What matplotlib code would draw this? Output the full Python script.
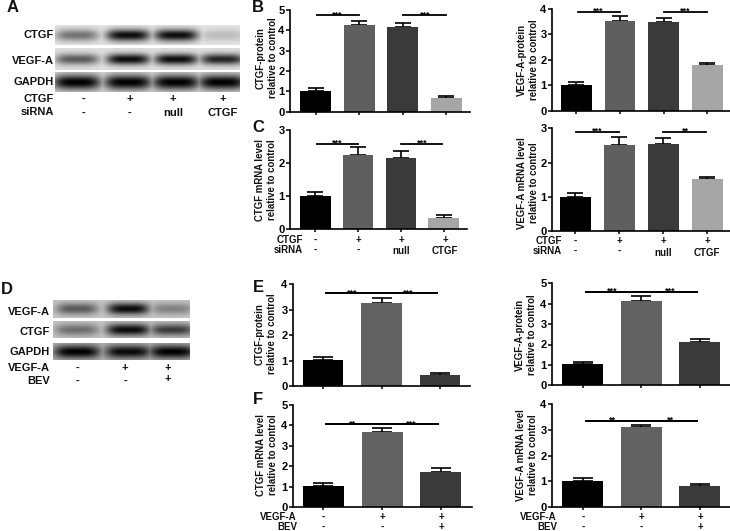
import numpy as np
import matplotlib
matplotlib.use("Agg")
import matplotlib.pyplot as plt

W, H = 730, 531

plt.rcParams["font.family"] = ["Liberation Sans", "DejaVu Sans"]
plt.rcParams["font.weight"] = "bold"

# bar values
ctgf_protein = [1.02, 4.25, 4.17, 0.67]
ctgf_protein_err = [0.13, 0.22, 0.20, 0.08]
vegf_protein = [1.02, 3.53, 3.47, 1.80]
vegf_protein_err = [0.12, 0.20, 0.18, 0.08]
ctgf_mrna = [1.00, 2.23, 2.15, 0.35]
ctgf_mrna_err = [0.13, 0.25, 0.21, 0.08]
vegf_mrna = [1.00, 2.52, 2.55, 1.52]
vegf_mrna_err = [0.11, 0.22, 0.18, 0.07]

bev_ctgf_protein = [1.03, 3.25, 0.42]
bev_ctgf_protein_err = [0.12, 0.22, 0.10]
bev_vegf_protein = [1.03, 4.15, 2.13]
bev_vegf_protein_err = [0.10, 0.25, 0.13]
bev_ctgf_mrna = [1.02, 3.70, 1.73]
bev_ctgf_mrna_err = [0.15, 0.18, 0.17]
bev_vegf_mrna = [1.02, 3.10, 0.82]
bev_vegf_mrna_err = [0.10, 0.10, 0.08]

colors4 = ["#000000", "#5f5f5f", "#3a3a3a", "#a6a6a6"]
colors3 = ["#000000", "#626262", "#3a3a3a"]

# band darkness per lane, 0 = nothing, 1 = black
blot_a_ctgf = [0.50, 0.95, 0.95, 0.18]
blot_a_vegf = [0.60, 0.95, 0.95, 0.85]
blot_a_gapdh = [1.0, 1.0, 1.0, 1.0]
blot_d_vegf = [0.55, 0.95, 0.35]
blot_d_ctgf = [0.45, 0.95, 0.70]
blot_d_gapdh = [1.0, 0.95, 1.0]

fig = plt.figure(figsize=(W / 100, H / 100), dpi=100)


def px_axes(left, top, right, bottom):
    return fig.add_axes([left / W, 1 - bottom / H, (right - left) / W, (bottom - top) / H])


def px_text(x, y, s, size=7, ha="center", rotation=0):
    fig.text(x / W, 1 - y / H, s, fontsize=size, ha=ha, va="center", rotation=rotation,
             fontweight="bold", color="#111111", linespacing=1.35)


def bar_panel(box, first, step, width, values, errs, colors, ymax, label, label_pos, sig, cap):
    left, top, right, bottom = box
    ax = px_axes(left, top, right, bottom)
    xs = np.arange(len(values))
    ax.bar(xs, values, width=width / step, color=colors, zorder=2)
    ax.errorbar(xs, values, yerr=[np.zeros(len(errs)), errs], fmt="none", ecolor="black",
                elinewidth=1.2, capsize=cap, capthick=1.2, zorder=1)
    ax.set_xlim((left - first) / step, (right - first) / step)
    ax.set_ylim(0, ymax)
    ax.set_yticks(range(ymax + 1))
    ax.set_xticks(xs)
    ax.set_xticklabels([])
    ax.tick_params(axis="y", length=3, width=1.1, labelsize=8, pad=1)
    ax.tick_params(axis="x", length=2.5, width=1.1)
    for s in ["top", "right"]:
        ax.spines[s].set_visible(False)
    for s in ["left", "bottom"]:
        ax.spines[s].set_linewidth(1.2)
    for x0, x1, y, star_x, stars in sig:
        ax.plot([x0, x1], [y, y], color="black", lw=1.3, clip_on=False, zorder=3)
        ax.annotate(stars, (star_x, y), xytext=(0, -1.5), textcoords="offset points", fontsize=6.5,
                    ha="center", va="baseline", fontweight="bold", annotation_clip=False)
    px_text(label_pos[0], label_pos[1], label, size=6.9, rotation=90)
    return ax


def blot_strip(box, lanes, darkness, background, band_w, band_h):
    left, top, right, bottom = box
    ax = px_axes(left, top, right, bottom)
    x, y = np.meshgrid(np.arange(left, right, 0.5), np.arange(top, bottom, 0.5))
    mid = (top + bottom) / 2
    img = np.zeros_like(x)
    for lane, d in zip(lanes, darkness):
        shape = np.exp(-(np.abs(x - lane) / band_w) ** 4 - (np.abs(y - mid) / band_h) ** 2)
        img = np.maximum(img, d * shape)
    img = background * (1 - img)
    ax.imshow(img, cmap="gray", vmin=0, vmax=1, aspect="auto", interpolation="bilinear")
    ax.axis("off")


# panels A and D: blots
lanes_a = [77, 128, 176, 222]
blot_strip((55, 25, 240, 45), lanes_a, blot_a_ctgf, 0.90, 22, 6)
blot_strip((55, 48, 240, 70), lanes_a, blot_a_vegf, 0.88, 22, 5.5)
blot_strip((55, 72, 240, 92), lanes_a, blot_a_gapdh, 0.85, 24, 7.5)
lanes_d = [77, 128, 172]
blot_strip((53, 300, 190, 318), lanes_d, blot_d_vegf, 0.78, 21, 5.5)
blot_strip((53, 321, 190, 338), lanes_d, blot_d_ctgf, 0.78, 22, 6)
blot_strip((53, 343, 190, 360), lanes_d, blot_d_gapdh, 0.70, 23, 6.5)

for y, s in [(35, "CTGF"), (61, "VEGF-A"), (82, "GAPDH"), (99, "CTGF"), (112, "siRNA")]:
    px_text(54, y, s, size=8, ha="right")
for y, s in [(312, "VEGF-A"), (332, "CTGF"), (352, "GAPDH"), (368, "VEGF-A"), (381, "BEV")]:
    px_text(50, y, s, size=8, ha="right")
for x, a, b in zip([83, 130, 173, 223], ["-", "+", "+", "+"], ["-", "-", "null", "CTGF"]):
    px_text(x, 99, a, size=8)
    px_text(x, 113, b, size=8)
for x, a, b in zip([78, 125, 168], ["-", "+", "+"], ["-", "-", "+"]):
    px_text(x, 368, a, size=8)
    px_text(x, 381 if b == "-" else 379, b, size=8)

# panels B and C
bar_panel((290, 10, 470, 111.7), 315.7, 43.6, 31, ctgf_protein, ctgf_protein_err, colors4, 5,
          "CTGF-protein\nrelative to control", (267, 58),
          [(0.03, 1, 4.75, 0.5, "***"), (2, 2.98, 4.75, 2.5, "***")], 5.5)
bar_panel((552, 9, 730, 110.7), 576.3, 43.7, 30.7, vegf_protein, vegf_protein_err, colors4, 4,
          "VEGF-A-protein\nrelative to control", (528, 60),
          [(0.03, 1, 3.89, 0.5, "***"), (2, 2.98, 3.89, 2.5, "***")], 5.5)
bar_panel((290, 130, 467, 229.3), 315.3, 42.8, 30.5, ctgf_mrna, ctgf_mrna_err, colors4, 3,
          "CTGF mRNA level\nrelative to control", (266, 180),
          [(0.03, 1, 2.58, 0.5, "***"), (2, 2.96, 2.58, 2.5, "***")], 5.5)
bar_panel((552, 128.3, 730, 231), 575, 44, 31, vegf_mrna, vegf_mrna_err, colors4, 3,
          "VEGF-A mRNA level\nrelative to control", (528, 183),
          [(0.03, 1, 2.90, 0.5, "***"), (2, 2.98, 2.90, 2.5, "**")], 5.5)

# panels E and F
bar_panel((293, 284.3, 470, 386), 323, 58.5, 40.7, bev_ctgf_protein, bev_ctgf_protein_err, colors3, 4,
          "CTGF-protein\nrelative to control", (266, 334),
          [(0.05, 1.95, 3.65, 0.5, "***"), (0.05, 1.95, 3.65, 1.45, "***")], 7)
bar_panel((552, 283.3, 730, 385.3), 582.7, 58.5, 41, bev_vegf_protein, bev_vegf_protein_err, colors3, 5,
          "VEGF-A-protein\nrelative to control", (526, 335),
          [(0.05, 1.95, 4.59, 0.5, "***"), (0.05, 1.95, 4.59, 1.5, "***")], 7)
bar_panel((293, 405, 472, 507), 323.3, 58.8, 41, bev_ctgf_mrna, bev_ctgf_mrna_err, colors3, 5,
          "CTGF mRNA level\nrelative to control", (267, 455),
          [(0.05, 1.95, 4.05, 0.5, "**"), (0.05, 1.95, 4.05, 1.5, "***")], 7)
bar_panel((552, 404.3, 730, 506.7), 582.7, 58.5, 41, bev_vegf_mrna, bev_vegf_mrna_err, colors3, 4,
          "VEGF-A mRNA level\nrelative to control", (527, 455),
          [(0.05, 1.95, 3.36, 0.5, "**"), (0.05, 1.95, 3.36, 1.5, "**")], 7)

# group labels under the lower charts
for right, xs, y0, y1 in [(303, [315, 358, 401, 445], 240, 250), (562, [575, 619, 663, 707], 241, 251)]:
    px_text(right, y0, "CTGF", ha="right")
    px_text(right, y1, "siRNA", ha="right")
    for x, a, b in zip(xs, ["-", "+", "+", "+"], ["-", "-", "null", "CTGF"]):
        px_text(x, y0, a)
        px_text(x, y1 + (1.5 if b in ("null", "CTGF") else 0), b)
for right, xs in [(297, [323, 382, 441]), (557, [583, 641, 700])]:
    px_text(right, 517, "VEGF-A", ha="right")
    px_text(right, 527, "BEV", ha="right")
    for x, a, b in zip(xs, ["-", "+", "+"], ["-", "-", "+"]):
        px_text(x, 517, a)
        px_text(x, 527, b)

for x, y, s in [(13, 8, "A"), (258, 7, "B"), (258, 127, "C"), (7, 289, "D"), (258, 287, "E"), (258, 400, "F")]:
    px_text(x, y, s, size=12)

fig.savefig("out.png", dpi=100)
